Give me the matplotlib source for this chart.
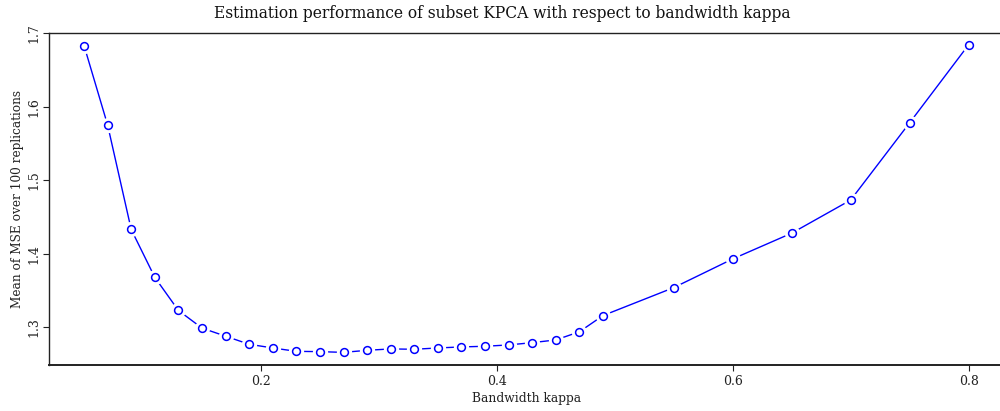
import matplotlib
matplotlib.use("Agg")
import matplotlib.pyplot as plt

kappa = [0.05, 0.07, 0.09, 0.11, 0.13, 0.15, 0.17, 0.19, 0.21, 0.23, 0.25, 0.27,
         0.29, 0.31, 0.33, 0.35, 0.37, 0.39, 0.41, 0.43, 0.45, 0.47, 0.49,
         0.55, 0.60, 0.65, 0.70, 0.75, 0.80]
mse = [1.683, 1.575, 1.433, 1.368, 1.323, 1.299, 1.288, 1.277, 1.272, 1.2674, 1.267, 1.266,
       1.2688, 1.2707, 1.2702, 1.272, 1.2734, 1.2743, 1.2761, 1.2792, 1.2829, 1.294, 1.316,
       1.354, 1.393, 1.428, 1.473, 1.578, 1.684]
xticks = [0.2, 0.4, 0.6, 0.8]
yticks = [1.3, 1.4, 1.5, 1.6, 1.7]

title = "Estimation performance of subset KPCA with respect to bandwidth kappa"
xlabel = "Bandwidth kappa"
ylabel = "Mean of MSE over 100 replications"

plt.rcParams['font.family'] = ['DejaVu Serif']
fig = plt.figure(figsize=(10, 4.11), dpi=100)
ax = fig.add_axes([0.049, 0.1131, 0.955, 0.8066])

ax.plot(kappa, mse, color='blue', lw=1.0, zorder=2)
ax.plot(kappa, mse, ls='none', marker='o', ms=10, mfc='white', mec='white', zorder=3)
ax.plot(kappa, mse, ls='none', marker='o', ms=5.6, mfc='white', mec='blue', mew=1.1, zorder=4)

ax.set_xlim(0.0203, 0.83)
ax.set_ylim(1.2495, 1.7)
ax.set_xticks(xticks)
ax.set_xticklabels([f"{v:g}" for v in xticks])
ax.set_yticks(yticks)
ax.set_yticklabels([f"{v:g}" for v in yticks], rotation=90, va='center')

ax.spines['right'].set_visible(False)
for s in ax.spines.values():
    s.set_color('#222222')
    s.set_linewidth(1.0)
ax.spines['bottom'].set_linewidth(1.4)
ax.tick_params(axis='both', direction='out', length=4.5, width=0.8, color='#222222',
               labelsize=9, labelcolor='#222222', pad=3)
ax.tick_params(axis='y', pad=2)

fig.text(0.502, (411 - 18) / 411, title, fontsize=11.2, color='#111111',
         ha='center', va='baseline')
ax.set_xlabel(xlabel, fontsize=8.8, color='#222222', labelpad=3)
ax.set_ylabel(ylabel, fontsize=8.7, color='#222222', labelpad=2)

fig.savefig("out.png", dpi=100)
